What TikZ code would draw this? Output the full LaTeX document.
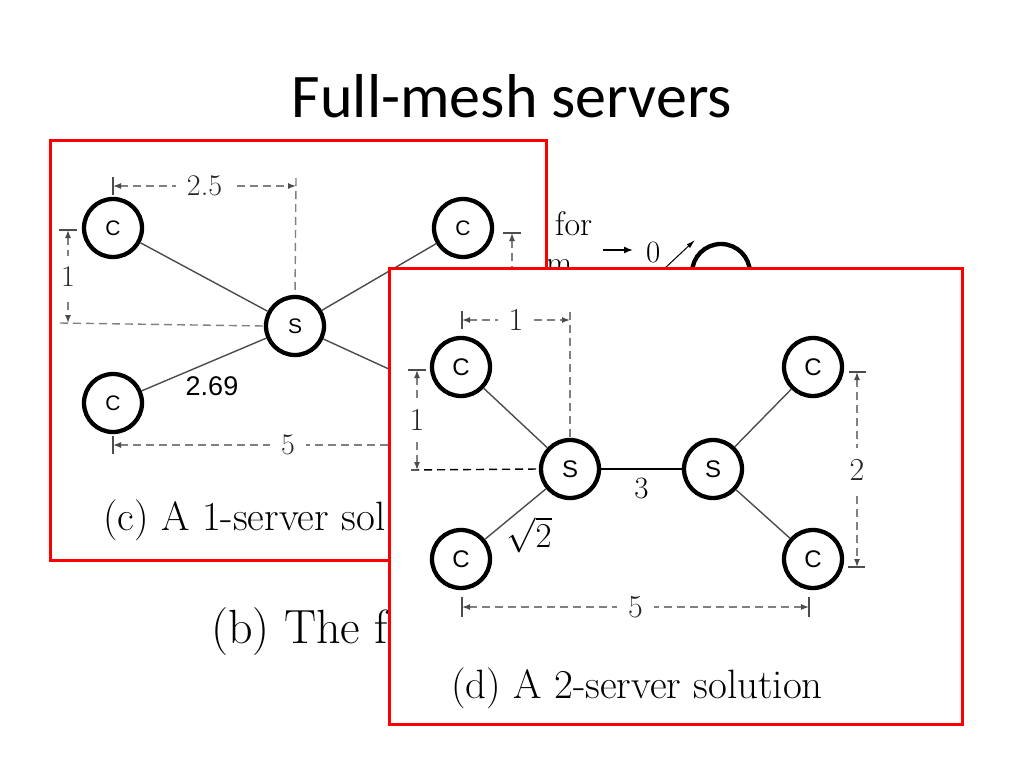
\documentclass[tikz,border=0pt]{standalone}
\usepackage{fontspec}
\newfontfamily\slidefont{Carlito}
\newfontfamily\nodefont{Liberation Sans}
\usetikzlibrary{arrows.meta}

\begin{document}
\begin{tikzpicture}[x=1pt, y=-1pt,
    station/.style={draw, circle, line width=4.3pt, minimum size=58pt, inner sep=0pt, font=\nodefont\fontsize{21}{21}\selectfont},
    link/.style={draw, line width=1.4pt, black!70},
    dimline/.style={draw, gray, line width=1.4pt, dash pattern=on 8pt off 5pt, {Latex[length=8pt,width=6pt,black!70]}-{Latex[length=8pt,width=6pt,black!70]}},
    guide/.style={draw, gray, line width=1.4pt, dash pattern=on 8pt off 5pt},
    tick/.style={draw, gray!60!black, line width=1.4pt},
    dimlabel/.style={fill=white, text=black!85, inner xsep=11pt, inner ysep=9pt, font=\fontsize{30}{30}\selectfont},
    vdimlabel/.style={dimlabel, inner xsep=2pt, inner ysep=11pt},
    panel/.style={draw=red, line width=3pt, fill=white}
]
    \useasboundingbox (0,0) rectangle (1024,768);

    % Title
    \node[anchor=base, font=\slidefont\fontsize{62}{70}\selectfont] (title) at (512,117) {Full-mesh servers};

    % Figure (b), mostly hidden behind the panels
    \node[anchor=base west, inner sep=0pt, font=\fontsize{34}{34}\selectfont] (for) at (555,235) {for};
    \node[anchor=base west, inner sep=0pt, font=\fontsize{34}{34}\selectfont] (frag) at (546,274) {m};
    \node[anchor=base west, inner sep=0pt, font=\fontsize{31}{31}\selectfont] (zero) at (646,262) {0};
    \coordinate (zin) at (603,250);
    \draw[line width=1.6pt, -{Latex[length=9pt,width=7pt]}, shorten >=13pt] (zin) -- (zero.west |- zin);
    \node[station] (bgc) at (721,273) {};
    \coordinate (din) at (664,269);
    \coordinate (dout) at (695,240);
    \draw[line width=1pt, -{Latex[length=9pt,width=5pt]}] (din) -- (dout);
    \node[anchor=base west, inner sep=0pt, font=\fontsize{48}{48}\selectfont] (capb) at (211,643) {(b) The f};

    % Panel (c): 1-server solution
    \draw[panel] (50,140) rectangle (546,560);
    \node[station] (s) at (295,326) {S};
    \node[station] (c1) at (113,228) {C};
    \node[station] (c2) at (463,228) {C};
    \node[station] (c3) at (113,403) {C};
    \coordinate (c4) at (463,403);
    \foreach \c in {c1, c2, c3, c4} {
        \draw[link] (s) -- (\c);
    }
    \node[font=\nodefont\fontsize{27}{27}\selectfont] (w) at (212,386) {2.69};

    % dimensions of (c)
    \coordinate (ha) at (113,186);
    \coordinate (hb) at (296,186);
    \draw[dimline] (ha) -- node[dimlabel] {2.5} (hb);
    \draw[tick] ([yshift=-9pt]ha) -- ([yshift=9pt]ha);
    \draw[guide] ([yshift=8pt]hb) -- (s.north);

    \coordinate (va) at (68,230);
    \coordinate (vb) at (68,323);
    \draw[dimline] (va) -- node[vdimlabel] {1} (vb);
    \draw[tick] ([xshift=-9pt]va) -- ([xshift=9pt]va);
    \draw[guide] ([xshift=-8pt]vb) -- (s.west);

    \coordinate (ba) at (113,445);
    \coordinate (bb) at (463,445);
    \draw[dimline] (ba) -- node[dimlabel] {5} (bb);
    \draw[tick] ([yshift=-9pt]ba) -- ([yshift=9pt]ba);

    \coordinate (ra) at (512,233);
    \coordinate (rb) at (512,403);
    \draw[dimline] (ra) -- (rb);
    \draw[tick] ([xshift=-9pt]ra) -- ([xshift=9pt]ra);

    \node[anchor=base west, inner sep=0pt, font=\fontsize{41}{41}\selectfont] (capc) at (103,530) {(c) A 1-server sol};

    % Panel (d): 2-server solution
    \draw[panel] (389,268) rectangle (962,724);
    \node[station, font=\nodefont\fontsize{24}{24}\selectfont] (s1) at (570,469) {S};
    \node[station, font=\nodefont\fontsize{24}{24}\selectfont] (s2) at (713,469) {S};
    \node[station, font=\nodefont\fontsize{24}{24}\selectfont] (d1) at (461,367) {C};
    \node[station, font=\nodefont\fontsize{24}{24}\selectfont] (d2) at (461,559) {C};
    \node[station, font=\nodefont\fontsize{24}{24}\selectfont] (d3) at (813,367) {C};
    \node[station, font=\nodefont\fontsize{24}{24}\selectfont] (d4) at (813,559) {C};
    \draw[link] (s1) -- (d1);
    \draw[link] (s1) -- (d2);
    \draw[link] (s2) -- (d3);
    \draw[link] (s2) -- (d4);
    \draw[line width=1.8pt] (s1) -- node[below=5pt, font=\fontsize{31}{31}\selectfont] (three) {3} (s2);
    \node[scale=1.4, font=\fontsize{24}{24}\selectfont] (root) at (529,535) {$\sqrt{2}$};

    % dimensions of (d)
    \coordinate (ta) at (462,320);
    \coordinate (tb) at (570,320);
    \draw[dimline] (ta) -- node[dimlabel, font=\fontsize{32}{32}\selectfont] {1} (tb);
    \draw[tick] ([yshift=-9pt]ta) -- ([yshift=9pt]ta);
    \draw[guide] ([yshift=8pt]tb) -- (s1.north);

    \coordinate (la) at (417,370);
    \coordinate (lb) at (417,470);
    \draw[dimline] (la) -- node[vdimlabel, font=\fontsize{32}{32}\selectfont] {1} (lb);
    \draw[tick] ([xshift=-9pt]la) -- ([xshift=9pt]la);
    \draw[guide, black] ([xshift=-6pt]lb) -- (s1.west);

    \coordinate (qa) at (857,372);
    \coordinate (qb) at (857,567);
    \draw[dimline] (qa) -- node[vdimlabel, font=\fontsize{32}{32}\selectfont] {2} (qb);
    \draw[tick] ([xshift=-8pt]qa) -- ([xshift=9pt]qa);
    \draw[tick] ([xshift=-9pt]qb) -- ([xshift=8pt]qb);

    \coordinate (pa) at (462,607);
    \coordinate (pb) at (809,607);
    \draw[dimline] (pa) -- node[dimlabel, font=\fontsize{32}{32}\selectfont] {5} (pb);
    \draw[tick] ([yshift=-10pt]pa) -- ([yshift=10pt]pa);
    \draw[tick] ([yshift=-10pt]pb) -- ([yshift=10pt]pb);

    \node[anchor=base, inner sep=0pt, font=\fontsize{41}{41}\selectfont] (capd) at (637,698) {(d) A 2-server solution};

\end{tikzpicture}
\end{document}
